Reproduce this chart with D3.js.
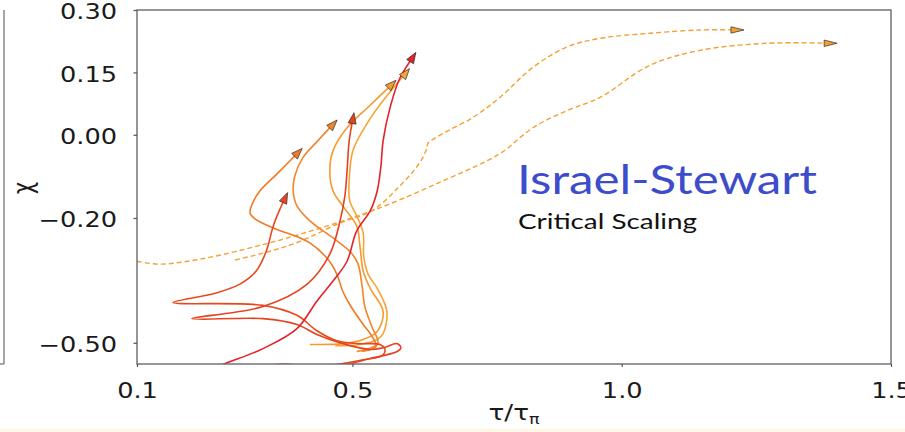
<!DOCTYPE html>
<html>
<head>
<meta charset="utf-8">
<script src="https://cdn.jsdelivr.net/npm/d3@7"></script>
<style>
  body { margin: 0; background: #ffffff; }
  svg { display: block; }
</style>
</head>
<body>
<svg id="chart" width="905" height="432"></svg>
<script>
// ---- axis ticks ----
const xTicks = [0.1, 0.5, 1.0, 1.5];
const yTicks = [0.30, 0.15, 0.00, -0.20, -0.50];

// ---- trajectories in the (tau/tau_pi, chi) plane; each ends at its arrow ----
const trajRed = [
  [0.198,-0.589],[0.254,-0.555],[0.334,-0.514],[0.397,-0.466],[0.434,-0.400],
  [0.468,-0.345],[0.490,-0.304],[0.508,-0.231],[0.533,-0.183],[0.546,-0.135],
  [0.553,-0.074],[0.557,-0.014],[0.570,0.066],[0.588,0.136],[0.612,0.186]
];
const trajRedOrangeA = [
  [0.273,-0.589],[0.347,-0.555],[0.375,-0.551],[0.403,-0.555],[0.440,-0.556],
  [0.482,-0.550],[0.520,-0.541],[0.557,-0.529],[0.560,-0.514],[0.551,-0.504],
  [0.510,-0.502],[0.471,-0.495],[0.434,-0.471],[0.397,-0.434],[0.334,-0.410],
  [0.167,-0.403],[0.245,-0.381],[0.291,-0.359],[0.321,-0.328],[0.340,-0.280],
  [0.353,-0.219],[0.364,-0.183],[0.375,-0.152]
];
const trajRedOrangeB = [
  [0.403,-0.584],[0.482,-0.555],[0.533,-0.538],[0.583,-0.521],[0.590,-0.512],
  [0.583,-0.502],[0.557,-0.512],[0.533,-0.516],[0.482,-0.502],[0.434,-0.480],
  [0.397,-0.456],[0.334,-0.442],[0.202,-0.442],[0.334,-0.413],[0.416,-0.359],
  [0.458,-0.287],[0.477,-0.207],[0.486,-0.147],[0.490,-0.087],[0.494,-0.014],
  [0.501,0.039]
];
const trajOrangeA = [
  [0.518,-0.521],[0.544,-0.509],[0.534,-0.480],[0.520,-0.456],[0.495,-0.408],
  [0.482,-0.376],[0.471,-0.335],[0.453,-0.297],[0.421,-0.260],[0.403,-0.248],
  [0.353,-0.224],[0.319,-0.202],[0.310,-0.188],[0.314,-0.166],[0.328,-0.135],
  [0.360,-0.094],[0.399,-0.043]
];
const trajOrangeB = [
  [0.508,-0.521],[0.547,-0.502],[0.536,-0.461],[0.523,-0.413],[0.518,-0.364],
  [0.510,-0.309],[0.495,-0.280],[0.464,-0.248],[0.421,-0.207],[0.397,-0.171],
  [0.390,-0.135],[0.393,-0.099],[0.408,-0.055],[0.436,-0.014],[0.464,0.025]
];
const trajLightA = [
  [0.421,-0.504],[0.482,-0.502],[0.520,-0.492],[0.546,-0.473],[0.557,-0.425],
  [0.533,-0.369],[0.520,-0.328],[0.514,-0.268],[0.508,-0.219],[0.482,-0.171],
  [0.464,-0.135],[0.458,-0.087],[0.464,-0.038],[0.490,0.017],[0.533,0.071],
  [0.573,0.121]
];
const trajLightB = [
  [0.468,-0.507],[0.514,-0.504],[0.546,-0.492],[0.557,-0.478],[0.564,-0.425],
  [0.546,-0.369],[0.529,-0.335],[0.521,-0.292],[0.520,-0.236],[0.508,-0.195],
  [0.495,-0.159],[0.494,-0.111],[0.501,-0.038],[0.527,0.027],[0.560,0.087],
  [0.599,0.148]
];
// dashed trajectories running off to large tau
const trajDashedA = [
  [0.100,-0.304],[0.143,-0.311],[0.217,-0.299],[0.310,-0.272],[0.403,-0.239],
  [0.536,-0.183],[0.668,-0.111],[0.774,-0.045],[0.835,0.017],[0.898,0.058],
  [0.960,0.090],[1.052,0.167],[1.145,0.203],[1.270,0.220],[1.387,0.220]
];
const trajDashedB = [
  [0.282,-0.301],[0.347,-0.280],[0.403,-0.256],[0.477,-0.212],[0.536,-0.183],
  [0.588,-0.123],[0.625,-0.067],[0.638,-0.033],[0.640,-0.021],[0.668,0.003],
  [0.724,0.042],[0.774,0.090],[0.835,0.162],[0.898,0.211],[0.960,0.232],
  [1.052,0.244],[1.145,0.252],[1.214,0.252]
];

// drawing styles per trajectory
const styles = [
  { data: trajDashedA,    color: "#f5a033", dashed: true },
  { data: trajDashedB,    color: "#f5a033", dashed: true },
  { data: trajLightA,     color: "#f59a2e" },
  { data: trajLightB,     color: "#f7a437" },
  { data: trajOrangeA,    color: "#f07a24" },
  { data: trajOrangeB,    color: "#f2842a" },
  { data: trajRedOrangeA, color: "#e9481f" },
  { data: trajRedOrangeB, color: "#e6421e" },
  { data: trajRed,        color: "#e3222a" }
];

const svg = d3.select("#chart");
const L = 137, R = 891, T = 10, B = 364;
const SX = 1.25; // horizontal stretch of the plot lettering

const x = d3.scaleLinear().domain([0.1, 1.5]).range([L, R]);
const y = d3.scaleLinear().domain([-0.551, 0.30]).range([B, T]);

// neighbouring panel edge on the far left and the page strip at the bottom
svg.append("line").attr("x1", 4).attr("x2", 4).attr("y1", T).attr("y2", B)
  .attr("stroke", "#777").attr("stroke-width", 1.3);
svg.append("line").attr("x1", 0).attr("x2", 4).attr("y1", B).attr("y2", B)
  .attr("stroke", "#777").attr("stroke-width", 1.3);
svg.append("rect").attr("x", 0).attr("y", 429).attr("width", 905).attr("height", 3)
  .attr("fill", "#fdf7e3");

svg.append("clipPath").attr("id", "plotClip")
  .append("rect").attr("x", L).attr("y", T).attr("width", R - L).attr("height", B - T);

const line = d3.line()
  .x(d => x(d[0])).y(d => y(d[1]))
  .curve(d3.curveCatmullRom.alpha(0.5));

const plot = svg.append("g").attr("clip-path", "url(#plotClip)");

plot.selectAll("path.traj")
  .data(styles)
  .join("path")
  .attr("class", "traj")
  .attr("d", s => line(s.data))
  .attr("fill", "none")
  .attr("stroke", s => s.color)
  .attr("stroke-width", s => s.dashed ? 1.4 : 1.6)
  .attr("stroke-dasharray", s => s.dashed ? "5,3" : null)
  .attr("stroke-linejoin", "round");

// arrowheads at the end of each trajectory
function arrowHead(s) {
  const n = s.data.length;
  const p = [x(s.data[n - 1][0]), y(s.data[n - 1][1])];
  const q = [x(s.data[n - 2][0]), y(s.data[n - 2][1])];
  let ux = p[0] - q[0], uy = p[1] - q[1];
  const len = Math.hypot(ux, uy) || 1;
  ux /= len; uy /= len;
  const nx = -uy, ny = ux;
  const ahead = s.dashed ? 7 : 6, back = s.dashed ? 6 : 5, half = s.dashed ? 3.2 : 4;
  const tip = [p[0] + ux * ahead, p[1] + uy * ahead];
  const b0 = [p[0] - ux * back + nx * half, p[1] - uy * back + ny * half];
  const b1 = [p[0] - ux * back - nx * half, p[1] - uy * back - ny * half];
  return `M${tip[0]},${tip[1]}L${b0[0]},${b0[1]}L${b1[0]},${b1[1]}Z`;
}
svg.append("g").selectAll("path")
  .data(styles)
  .join("path")
  .attr("d", arrowHead)
  .attr("fill", s => s.color)
  .attr("stroke", "#2a2a2a")
  .attr("stroke-width", 0.7)
  .attr("stroke-linejoin", "miter");

// frame
svg.append("rect").attr("x", L).attr("y", T).attr("width", R - L).attr("height", B - T)
  .attr("fill", "none").attr("stroke", "#6a6a6a").attr("stroke-width", 1.4);

// axes
const fmtY = d => (d < 0 ? "\u2212" : "") + Math.abs(d).toFixed(2);
const yAxis = svg.append("g").attr("transform", `translate(${L},0)`)
  .call(d3.axisLeft(y).tickValues(yTicks).tickSize(3.5).tickFormat(fmtY));
yAxis.select(".domain").remove();
yAxis.selectAll(".tick line").attr("stroke", "#555").attr("stroke-width", 1.2);
yAxis.selectAll(".tick text")
  .attr("font-family", "DejaVu Sans")
  .attr("font-size", 20.5)
  .attr("fill", "#1a1a1a")
  .attr("x", -20 / SX)
  .attr("dy", "0.42em")
  .attr("transform", `scale(${SX},1)`);

const xAxis = svg.append("g").attr("transform", `translate(0,${B})`)
  .call(d3.axisBottom(x).tickValues(xTicks).tickSize(3).tickFormat(d3.format(".1f")));
xAxis.select(".domain").remove();
xAxis.selectAll(".tick line").attr("stroke", "#555").attr("stroke-width", 1.2);
xAxis.selectAll(".tick text")
  .attr("font-family", "DejaVu Sans")
  .attr("font-size", 20.5)
  .attr("fill", "#1a1a1a")
  .attr("y", 19.5)
  .attr("dy", "0.71em")
  .attr("transform", `scale(${SX},1)`);

// axis titles
svg.append("text")
  .attr("transform", "translate(32,188) rotate(-90) scale(1,1.25)")
  .attr("text-anchor", "middle")
  .attr("font-family", "DejaVu Sans")
  .attr("font-size", 21)
  .attr("fill", "#1a1a1a")
  .text("\u03c7");

const xl = svg.append("text")
  .attr("transform", `scale(${SX},1)`)
  .attr("x", 514 / SX).attr("y", 420)
  .attr("text-anchor", "middle")
  .attr("font-family", "DejaVu Sans")
  .attr("font-size", 21)
  .attr("fill", "#1a1a1a");
xl.append("tspan").text("\u03c4/\u03c4");
xl.append("tspan").attr("font-size", 14).attr("dy", 4).text("\u03c0");

// annotation
svg.append("text")
  .attr("x", 517).attr("y", 194)
  .attr("font-family", "Lato, 'Open Sans', sans-serif")
  .attr("font-size", 41.5)
  .attr("fill", "#3d4ccb")
  .attr("textLength", 300)
  .attr("lengthAdjust", "spacingAndGlyphs")
  .text("Israel-Stewart");
svg.append("text")
  .attr("x", 518).attr("y", 229)
  .attr("font-family", "Lato, 'Open Sans', sans-serif")
  .attr("font-size", 22)
  .attr("fill", "#111")
  .attr("textLength", 179)
  .attr("lengthAdjust", "spacingAndGlyphs")
  .text("Critical Scaling");
</script>
</body>
</html>
